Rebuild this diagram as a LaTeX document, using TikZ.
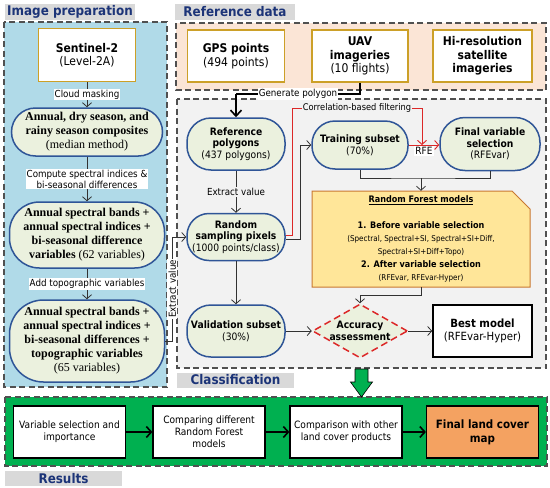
\documentclass[tikz,border=0pt]{standalone}
\usepackage{fontspec}
\setmainfont{Liberation Serif}
\setsansfont{DejaVu Sans}[FakeStretch=0.9]
\usetikzlibrary{arrows.meta,shapes.geometric}
\definecolor{ipfill}{RGB}{176,218,232}
\definecolor{stfill}{RGB}{235,241,222}
\definecolor{stdraw}{RGB}{47,85,151}
\definecolor{gold}{RGB}{204,160,40}
\definecolor{peach}{RGB}{251,229,214}
\definecolor{clsfill}{RGB}{242,242,242}
\definecolor{bargray}{RGB}{217,217,217}
\definecolor{navy}{RGB}{28,52,120}
\definecolor{resgreen}{RGB}{0,176,80}
\definecolor{rffill}{RGB}{255,230,153}
\definecolor{rfdraw}{RGB}{200,120,50}
\definecolor{finfill}{RGB}{244,162,97}
\definecolor{redc}{RGB}{220,40,40}
\definecolor{conncol}{RGB}{50,50,50}
\definecolor{pgray}{RGB}{80,80,80}
\newcommand{\rfbfont}{\bfseries\fontsize{9}{13}\selectfont}
\begin{document}
\begin{tikzpicture}[x=1pt,y=-1pt,
 panel/.style={draw=pgray, line width=1.1pt, dash pattern=on 6pt off 3.5pt},
 tbar/.style={fill=bargray, inner sep=0pt, minimum height=16, text=navy, font=\sffamily\bfseries\fontsize{13.3}{14}\selectfont},
 stad/.style={draw=stdraw, line width=1.5pt, fill=stfill, align=center, inner sep=0pt},
 srcbox/.style={draw=gold, line width=1.2pt, fill=white, align=center, inner sep=0pt, font=\sffamily\fontsize{12}{13.5}\selectfont},
 serift/.style={font=\rmfamily\fontsize{12}{14}\selectfont},
 clst/.style={font=\sffamily\fontsize{10.2}{11.6}\selectfont},
 lbl/.style={fill=white, inner sep=1pt, align=center, font=\sffamily\fontsize{9.7}{11}\selectfont},
 conn/.style={draw=conncol, line width=0.8pt, -{Straight Barb[length=4pt,width=9pt]}},
 redline/.style={draw=redc, line width=0.9pt},
 resbox/.style={draw=black, line width=1.2pt, fill=white, align=center, inner sep=0pt, minimum width=112, minimum height=52, font=\sffamily\fontsize{10.1}{11.8}\selectfont},
 resarrow/.style={draw=black, line width=1.6pt, -{Straight Barb[length=5pt,width=11pt]}},
]
\useasboundingbox (0,0) rectangle (550,488);

% panels
\draw[panel, fill=ipfill] (4,22) rectangle (167,387);
\draw[panel, fill=peach] (176,23) rectangle (546,90);
\draw[panel, fill=clsfill] (177,99) rectangle (546,368);
\draw[panel, fill=resgreen] (5,397) rectangle (547,466);

% titles
\node[tbar, minimum width=130] (tip) at (70,12) {Image preparation};
\node[tbar, minimum width=120] (trd) at (235,12) {Reference data};
\node[tbar, minimum width=117, minimum height=15] (tcl) at (235.5,380) {Classification};
\node[tbar, minimum width=117, minimum height=15] (tre) at (63.5,478.5) {Results};

% image preparation
\node[srcbox, minimum width=97, minimum height=53] (s2) at (87,55) {\textbf{Sentinel-2}\\(Level-2A)};
\node[stad, serift, minimum width=151, minimum height=48, rounded corners=24] (st1) at (87,132)
 {\textbf{Annual, dry season, and}\\\textbf{rainy season composites}\\(median method)};
\node[stad, serift, minimum width=155, minimum height=66, rounded corners=30] (st2) at (87,235)
 {\textbf{Annual spectral bands +}\\\textbf{annual spectral indices +}\\\textbf{bi-seasonal difference}\\\textbf{variables} (62 variables)};
\node[stad, serift, minimum width=155, minimum height=82, rounded corners=34] (st3) at (87,341)
 {\textbf{Annual spectral bands +}\\\textbf{annual spectral indices +}\\\textbf{bi-seasonal differences +}\\\textbf{topographic variables}\\(65 variables)};
\draw[conn] (s2) -- node[lbl]{Cloud masking} (st1);
\draw[conn] (st1) -- node[lbl]{Compute spectral indices \&\\bi-seasonal differences} (st2);
\draw[conn] (st2) -- node[lbl]{Add topographic variables} (st3);

% reference data
\node[srcbox, minimum width=97, minimum height=52] (gps) at (236,56) {\textbf{GPS points}\\(494 points)};
\node[srcbox, minimum width=96, minimum height=52] (uav) at (360,56) {\textbf{UAV}\\\textbf{imageries}\\(10 flights)};
\node[srcbox, minimum width=99, minimum height=52] (hires) at (482.5,56) {\textbf{Hi-resolution}\\\textbf{satellite}\\\textbf{imageries}};

% classification
\node[stad, clst, minimum width=98, minimum height=52, rounded corners=24] (refp) at (236,144) {\textbf{Reference}\\\textbf{polygons}\\(437 polygons)};
\node[stad, clst, minimum width=98, minimum height=47, rounded corners=22] (rand) at (236,237) {\textbf{Random}\\\textbf{sampling pixels}\\(1000 points/class)};
\node[stad, clst, minimum width=98, minimum height=52, rounded corners=24] (valid) at (236,331) {\textbf{Validation subset}\\(30\%)};
\node[stad, clst, minimum width=96, minimum height=48, rounded corners=23] (train) at (360,145) {\textbf{Training subset}\\(70\%)};
\node[stad, clst, minimum width=100, minimum height=53, rounded corners=25] (fin) at (490,144) {\textbf{Final variable}\\\textbf{selection}\\(RFEvar)};

\draw[draw=rfdraw, line width=1pt, fill=rffill] (312,191) -- (512,191) -- (530,209) -- (530,287) -- (312,287) -- cycle;
\node[minimum width=218, minimum height=96, inner sep=0pt, align=center, font=\sffamily\fontsize{8}{13}\selectfont] (rf) at (421,239)
 {{\rfbfont\underline{Random Forest models}}\\[13pt]{\rfbfont 1. Before variable selection}\\(Spectral, Spectral+SI, Spectral+SI+Diff,\\Spectral+SI+Diff+Topo)\\{\rfbfont 2. After variable selection}\\(RFEvar, RFEvar-Hyper)};

\node[diamond, draw=redc, dash pattern=on 7pt off 4pt, line width=1.5pt, fill=stfill, minimum width=95, minimum height=54, inner sep=0pt, aspect=1.76, align=center, clst] (acc) at (360,331) {\textbf{Accuracy}\\\textbf{assessment}};
\node[draw=black, line width=1.6pt, fill=white, minimum width=99, minimum height=52, align=center, inner sep=0pt, font=\sffamily\fontsize{11.3}{13.5}\selectfont] (best) at (482.5,331) {\textbf{Best model}\\(RFEvar-Hyper)};

% connectors classification
\coordinate (gpL) at (236,94);
\coordinate (gpR) at (360,94);
\draw[line width=1.4pt, draw=black] (uav.south) -- (gpR) -- node[lbl]{Generate polygon} (gpL);
\draw[line width=1.6pt, -{Straight Barb[length=6pt,width=11pt]}] (gpL) -- (refp.north);
\draw[conn] (refp) -- node[lbl, fill=clsfill]{Extract value} (rand);
\draw[conn] (rand) -- (valid);
\draw[conn] (st3.east) -- ++(7,0) |- node[pos=0.25, lbl, rotate=90]{Extract value} (rand.west);

\coordinate (cr1) at (292,108);
\coordinate (cr2) at (422,108);
\draw[redline, -{Straight Barb[length=4pt,width=9pt]}] ([yshift=2pt]rand.east) -| (cr1) -- node[lbl, fill=clsfill, font=\sffamily\fontsize{9.2}{10}\selectfont]{Correlation-based filtering} (cr2) -- (cr2 |- train.east);
\draw[conn] ([yshift=-2pt]rand.east) -- ++(15,0) |- (train.west);
\draw[redline, -{Straight Barb[length=4pt,width=9pt]}] (train.east) -- node[below=1pt, fill=white, inner sep=1pt, font=\sffamily\fontsize{10}{11}\selectfont]{RFE} (train.east -| fin.west);

\coordinate (rfj) at (421,178);
\draw[draw=conncol, line width=0.8pt] (train.south) |- (rfj) -| (fin.south);
\draw[conn] (rfj) -- (rf.north);
\draw[conn] (rf.south) -- ++(0,8) -| (acc.north);
\draw[conn] (valid.east) -- (acc.west);
\draw[conn] (acc.east) -- (best.west);

% green block arrow
\draw[fill=resgreen, draw=black, line width=0.6pt] (355,369) -- (368,369) -- (368,382) -- (372.5,382) -- (361.5,397) -- (350.5,382) -- (355,382) -- cycle;

% results
\node[resbox] (r1) at (69.5,432) {Variable selection and\\importance};
\node[resbox] (r2) at (209,432) {Comparing different\\Random Forest\\models};
\node[resbox] (r3) at (346,432) {Comparison with other\\land cover products};
\node[resbox, fill=finfill, font=\sffamily\bfseries\fontsize{11.5}{14}\selectfont] (r4) at (482.5,432) {Final land cover\\map};
\draw[resarrow] (r1) -- (r2);
\draw[resarrow] (r2) -- (r3);
\draw[resarrow] (r3) -- (r4);
\end{tikzpicture}
\end{document}
